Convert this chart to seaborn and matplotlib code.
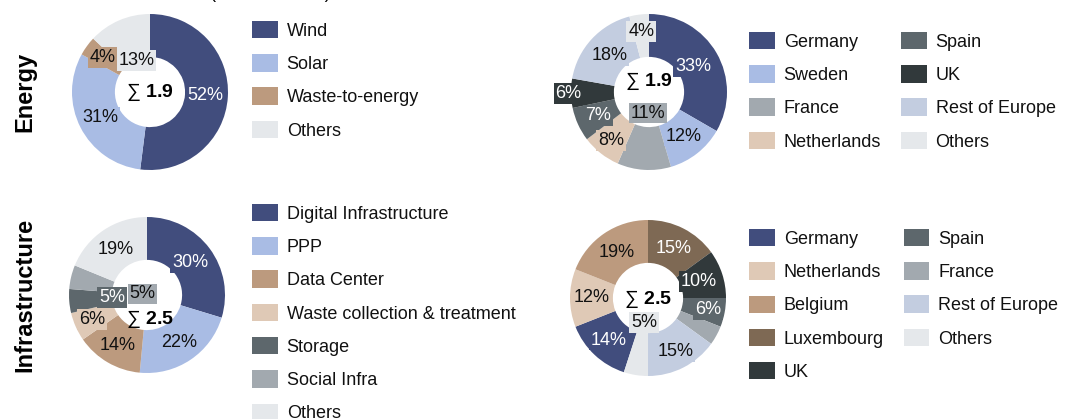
import numpy as np
import matplotlib
matplotlib.use("Agg")
import matplotlib.pyplot as plt
import seaborn as sns
from matplotlib.patches import Patch

sns.set_theme(style="white")
plt.rcParams["font.family"] = ["Liberation Sans", "DejaVu Sans"]
plt.rcParams["text.color"] = "black"
plt.rcParams["mathtext.fontset"] = "custom"
plt.rcParams["mathtext.rm"] = "Liberation Sans"
plt.rcParams["mathtext.bf"] = "Liberation Sans:bold"

# --- data ---
energy_sectors = ["Wind", "Solar", "Waste-to-energy", "Others"]
energy_sector_pct = [52, 31, 4, 13]
energy_countries = ["Germany", "Sweden", "France", "Netherlands", "Spain", "UK",
                    "Rest of Europe", "Others"]
energy_country_pct = [33, 12, 11, 8, 7, 6, 18, 4]
energy_total = "1.9"

infra_sectors = ["Digital Infrastructure", "PPP", "Data Center",
                 "Waste collection & treatment", "Storage", "Social Infra", "Others"]
infra_sector_pct = [30, 22, 14, 6, 5, 5, 19]
infra_countries = ["Germany", "Netherlands", "Belgium", "Luxembourg", "UK", "Spain",
                   "France", "Rest of Europe", "Others"]
infra_country_pct = [14, 12, 19, 15, 10, 6, 4, 15, 5]
infra_total = "2.5"

# --- colours ---
NAVY, LBLUE, TAN, BEIGE = "#414D7D", "#A9BCE4", "#BC9A7E", "#DFC9B6"
GREY, DGREY, UKC, REST, OTH, LUX = "#A2A9AF", "#5D676C", "#31393B", "#C3CDE0", "#E5E8EB", "#7E6954"

energy_sector_col = [NAVY, LBLUE, TAN, OTH]
energy_country_col = [NAVY, LBLUE, GREY, BEIGE, DGREY, UKC, REST, OTH]
infra_sector_col = [NAVY, LBLUE, TAN, BEIGE, DGREY, GREY, OTH]
infra_country_col = [NAVY, BEIGE, TAN, LUX, UKC, DGREY, GREY, REST, OTH]

W, H = 1080, 419
fig = plt.figure(figsize=(W / 100, H / 100), dpi=100)


def is_dark(c):
    r, g, b = matplotlib.colors.to_rgb(c)
    return 0.299 * r + 0.587 * g + 0.114 * b < 0.5


def donut(cx, cy, rad, values, colors, label_r, total, total_xy, start=90):
    ax = fig.add_axes([(cx - rad) / W, (H - cy - rad) / H, 2 * rad / W, 2 * rad / H])
    wedges, _ = ax.pie(values, colors=colors, startangle=start, counterclock=False,
                       radius=1, wedgeprops=dict(width=0.55, linewidth=0))
    for w, v, c, r in zip(wedges, values, colors, label_r):
        if r is None:
            continue
        ang = np.deg2rad((w.theta1 + w.theta2) / 2)
        ax.text(r * np.cos(ang), r * np.sin(ang), f"{v}%", ha="center", va="center",
                fontsize=13, color="white" if is_dark(c) else "#111111",
                bbox=dict(boxstyle="square,pad=0.1", fc=c, ec="none"))
    ax.text(total_xy[0], total_xy[1], "∑ $\\mathbf{" + total + "}$", ha="center",
            va="center", fontsize=14, color="black")
    ax.set_xlim(-1, 1)
    ax.set_ylim(-1, 1)
    ax.set_axis_off()
    return ax


def legend(x, ytop, labels, colors, ncol=1):
    handles = [Patch(facecolor=c, edgecolor="none", label=l) for l, c in zip(labels, colors)]
    fig.legend(handles=handles, loc="upper left", bbox_to_anchor=(x / W, 1 - ytop / H),
               ncol=ncol, frameon=False, fontsize=13, borderpad=0, borderaxespad=0,
               handlelength=1.42, handleheight=1.1, handletextpad=0.5,
               labelspacing=0.8, columnspacing=1.1, labelcolor="#111111")


donut(150, 92, 78, energy_sector_pct, energy_sector_col,
      [0.71, 0.71, 0.75, 0.44], energy_total, (0.0, 0.0))
donut(649, 92, 78, energy_country_pct, energy_country_col,
      [0.65, 0.72, 0.27, 0.79, 0.72, 1.03, 0.69, 0.78], energy_total, (0.0, 0.13))
donut(147, 295, 78, infra_sector_pct, infra_sector_col,
      [0.69, 0.74, 0.75, 0.77, 0.45, 0.06, 0.71], infra_total, (0.04, -0.31))
donut(648, 298, 78, infra_country_pct, infra_country_col,
      [0.74, 0.72, 0.71, 0.71, 0.69, 0.78, None, 0.77, 0.32], infra_total, (0.0, -0.02),
      start=-108)

legend(252, 21, energy_sectors, energy_sector_col)
legend(749, 32, energy_countries, energy_country_col, ncol=2)
legend(252, 204, infra_sectors, infra_sector_col)
legend(749, 229, infra_countries, infra_country_col, ncol=2)

fig.text(25 / W, 1 - 92 / H, "Energy", rotation=90, fontsize=17, fontweight="bold",
         ha="center", va="center")
fig.text(25 / W, 1 - 295 / H, "Infrastructure", rotation=90, fontsize=17,
         fontweight="bold", ha="center", va="center")
# title sits above the visible area, only the parentheses dip into view
fig.text(210 / W, 1 + 2 / H, "(in EUR billion)", fontsize=13, ha="left", va="baseline")

fig.savefig("out.png", dpi=100)
